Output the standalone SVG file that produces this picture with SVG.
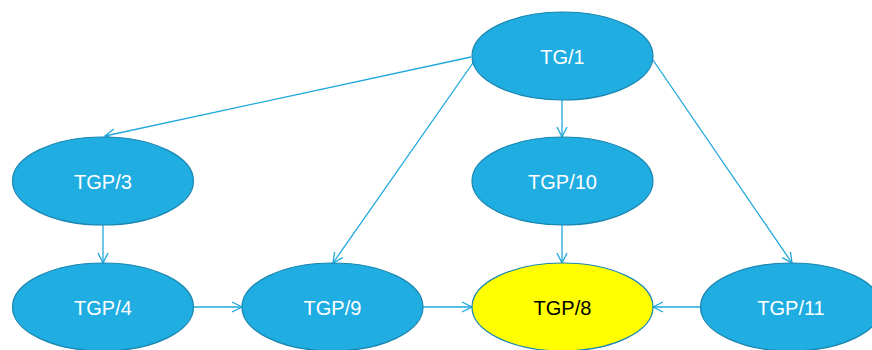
<svg xmlns="http://www.w3.org/2000/svg" width="872" height="350" viewBox="0 0 872 350">
<defs>
<style>
.n{fill:#1FADE2;stroke:#1A86B0;stroke-width:1.2}
.y{fill:#FFFF00;stroke:#1A86B0;stroke-width:1.2}
.t{font-family:"Liberation Sans",Arial,sans-serif;font-size:20px;fill:#FFFFFF;text-anchor:middle;dominant-baseline:central}
.tb{fill:#000000}
.e{stroke:#1FA8DC;stroke-width:1.3;fill:none;marker-end:url(#a)}
</style>
<marker id="a" viewBox="0 0 12 12" refX="11" refY="6" markerWidth="12" markerHeight="12" markerUnits="userSpaceOnUse" orient="auto">
<path d="M1,1 L11,6 L1,11" fill="none" stroke="#1FA8DC" stroke-width="1.3"/>
</marker>
</defs>
<rect width="872" height="350" fill="#FFFFFF"/>
<g id="connectors">
<line class="e" x1="471" y1="57" x2="105" y2="136"/>
<line class="e" x1="475" y1="60" x2="333" y2="263"/>
<line class="e" x1="562" y1="100" x2="562" y2="137"/>
<line class="e" x1="653" y1="60" x2="792" y2="263"/>
<line class="e" x1="103" y1="225" x2="103" y2="263"/>
<line class="e" x1="193" y1="307" x2="242" y2="307"/>
<line class="e" x1="423" y1="307" x2="472" y2="307"/>
<line class="e" x1="562" y1="225" x2="562" y2="263"/>
<line class="e" x1="701" y1="307" x2="653" y2="307"/>
</g>
<g id="TG1"><ellipse class="n" cx="562.5" cy="56" rx="90.5" ry="44"/><text class="t" x="562.5" y="57">TG/1</text></g>
<g id="TGP3"><ellipse class="n" cx="103" cy="181" rx="90.5" ry="44"/><text class="t" x="103" y="182">TGP/3</text></g>
<g id="TGP10"><ellipse class="n" cx="562.5" cy="181" rx="90.5" ry="44"/><text class="t" x="562.5" y="182">TGP/10</text></g>
<g id="TGP4"><ellipse class="n" cx="103" cy="307" rx="90.5" ry="44"/><text class="t" x="103" y="308">TGP/4</text></g>
<g id="TGP9"><ellipse class="n" cx="332.5" cy="307" rx="90.5" ry="44"/><text class="t" x="332.5" y="308">TGP/9</text></g>
<g id="TGP8"><ellipse class="y" cx="562.5" cy="307" rx="90.5" ry="44"/><text class="t tb" x="562.5" y="308">TGP/8</text></g>
<g id="TGP11"><ellipse class="n" cx="791" cy="307" rx="90.5" ry="44"/><text class="t" x="791" y="308">TGP/11</text></g>
</svg>
